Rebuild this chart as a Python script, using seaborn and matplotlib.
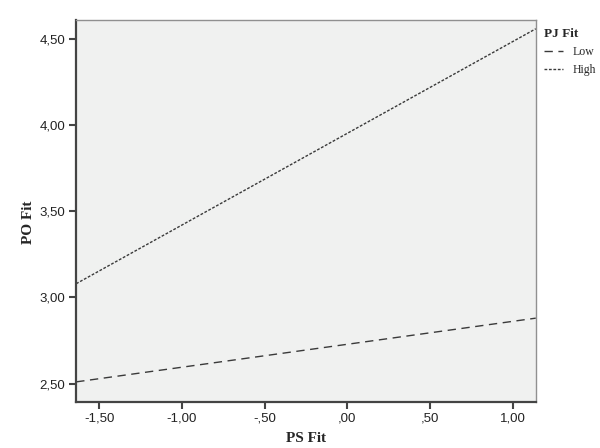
import pandas as pd
import matplotlib.pyplot as plt
import seaborn as sns
from matplotlib.ticker import FuncFormatter

# Simple slopes (end points at the axis edges)
ps_fit = [-1.64, 1.14]
po_low = [2.51, 2.88]
po_high = [3.08, 4.56]
x_ticks = [-1.5, -1.0, -0.5, 0.0, 0.5, 1.0]
y_ticks = [2.5, 3.0, 3.5, 4.0, 4.5]

df = pd.DataFrame({
    'PS Fit': ps_fit + ps_fit,
    'PO Fit': po_low + po_high,
    'PJ Fit': ['Low'] * len(ps_fit) + ['High'] * len(ps_fit),
})

sns.set_style('ticks')


def spss_fmt(v, pos=None):
    # SPSS style: comma decimal, no leading zero
    s = f"{v:.2f}".replace('.', ',')
    s = s.replace('-0,', '-,')
    if s.startswith('0,'):
        s = s[1:]
    return s


fig = plt.figure(figsize=(6, 4.48), dpi=100)
ax = fig.add_axes([0.127, 0.103, 0.766, 0.852])
ax.set_facecolor('#f0f1f0')

sns.lineplot(data=df, x='PS Fit', y='PO Fit', hue='PJ Fit', style='PJ Fit',
             palette={'Low': '#3a3a3a', 'High': '#3a3a3a'},
             dashes={'Low': (6, 4), 'High': (2, 1.2)},
             linewidth=1.0, ax=ax)

ax.set_xlim(-1.64, 1.14)
ax.set_ylim(2.394, 4.61)
ax.set_xticks(x_ticks)
ax.set_yticks(y_ticks)
ax.xaxis.set_major_formatter(FuncFormatter(spss_fmt))
ax.yaxis.set_major_formatter(FuncFormatter(spss_fmt))
ax.tick_params(axis='both', direction='out', length=5, width=1.5,
               color='#444444', labelsize=9.5, labelcolor='#222222', pad=3)
for lbl in ax.get_xticklabels() + ax.get_yticklabels():
    lbl.set_family('Liberation Sans')

for side in ['left', 'bottom']:
    ax.spines[side].set_color('#444444')
    ax.spines[side].set_linewidth(1.6)
for side in ['top', 'right']:
    ax.spines[side].set_color('#909090')
    ax.spines[side].set_linewidth(1.0)

ax.set_xlabel('PS Fit', family='Liberation Serif', fontweight='bold', fontsize=11, labelpad=5)
ax.set_ylabel('PO Fit', family='Liberation Serif', fontweight='bold', fontsize=11, labelpad=8)
ax.yaxis.set_label_coords(-0.09, 0.47)

leg = ax.legend(title='PJ Fit', loc='upper left', bbox_to_anchor=(1.0, 1.0),
                frameon=False, handlelength=1.6, borderaxespad=0.3,
                prop={'family': 'Liberation Serif', 'size': 8.5})
leg.get_title().set_family('Liberation Serif')
leg.get_title().set_fontweight('bold')
leg.get_title().set_fontsize(9.5)
leg._legend_box.align = 'left'

fig.savefig('out.png', dpi=100)
plt.close(fig)
